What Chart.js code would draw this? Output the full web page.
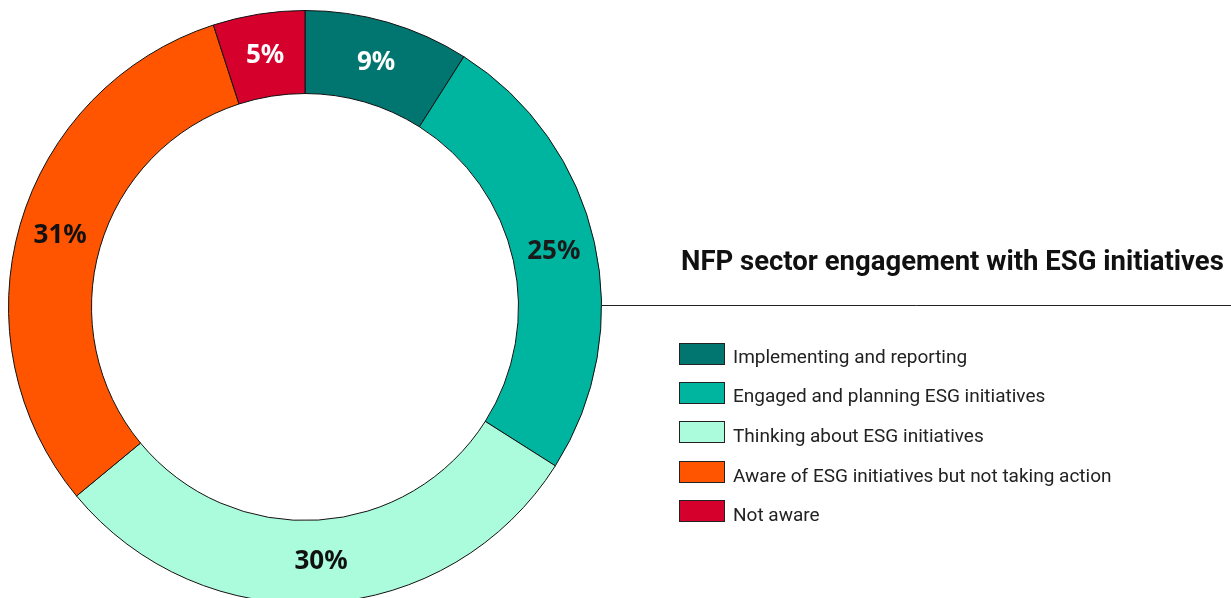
<!DOCTYPE html>
<html>
<head>
<meta charset="utf-8">
<title>NFP sector engagement with ESG initiatives</title>
<script src="https://cdn.jsdelivr.net/npm/chart.js@4.4.1/dist/chart.umd.min.js"></script>
<style>
  html, body { margin: 0; padding: 0; background: #fff; overflow: hidden; }
  #wrap { width: 1231px; height: 606px; }
</style>
</head>
<body>
<div id="wrap"><canvas id="esgChart" width="1231" height="606"></canvas></div>
<script>
const chartTitle = "NFP sector engagement with ESG initiatives";
const categories = [
  "Implementing and reporting",
  "Engaged and planning ESG initiatives",
  "Thinking about ESG initiatives",
  "Aware of ESG initiatives but not taking action",
  "Not aware"
];
const shares = [9, 25, 30, 31, 5];
const sliceColors = ["#017671", "#00b5a0", "#aafcdc", "#ff5500", "#d6002d"];
const labelColors = ["#ffffff", "#1a1a1a", "#111111", "#111111", "#ffffff"];

// Percent labels in the middle of each ring segment
const sliceLabels = {
  id: "sliceLabels",
  afterDatasetsDraw(chart) {
    const ctx = chart.ctx;
    const arcs = chart.getDatasetMeta(0).data;
    ctx.save();
    ctx.font = "bold 26px 'Noto Sans'";
    ctx.textAlign = "center";
    ctx.textBaseline = "middle";
    arcs.forEach((arc, i) => {
      const p = arc.getCenterPoint();
      ctx.fillStyle = labelColors[i];
      ctx.fillText(shares[i] + "%", p.x, p.y);
    });
    ctx.restore();
  }
};

// Title, rule and legend on the right side
const sidePanel = {
  id: "sidePanel",
  afterDraw(chart) {
    const ctx = chart.ctx;
    const arc = chart.getDatasetMeta(0).data[0];
    const ringRight = arc.x + arc.outerRadius;
    ctx.save();

    ctx.fillStyle = "#111";
    ctx.font = "bold 27.5px Roboto";
    ctx.textBaseline = "alphabetic";
    ctx.fillText(chartTitle, 681, 270);

    ctx.strokeStyle = "#222";
    ctx.lineWidth = 1;
    ctx.beginPath();
    ctx.moveTo(ringRight, 305.5);
    ctx.lineTo(chart.width, 305.5);
    ctx.stroke();

    ctx.font = "19px Roboto";
    ctx.textBaseline = "middle";
    categories.forEach((name, i) => {
      const y = Math.round(343 + i * 39.2);
      ctx.fillStyle = sliceColors[i];
      ctx.fillRect(679.5, y + 0.5, 45, 21);
      ctx.strokeStyle = "#222";
      ctx.strokeRect(679.5, y + 0.5, 45, 21);
      ctx.fillStyle = "#222";
      ctx.fillText(name, 733, y + 15 + i * 0.4);
    });
    ctx.restore();
  }
};

new Chart(document.getElementById("esgChart"), {
  type: "doughnut",
  data: {
    labels: categories,
    datasets: [{
      data: shares,
      backgroundColor: sliceColors,
      borderColor: "#111",
      borderWidth: 1
    }]
  },
  options: {
    responsive: false,
    animation: false,
    cutout: "72%",
    layout: { padding: { left: 8, right: 629, top: 10, bottom: 2 } },
    plugins: {
      legend: { display: false },
      tooltip: { enabled: false }
    }
  },
  plugins: [sliceLabels, sidePanel]
});
</script>
</body>
</html>
